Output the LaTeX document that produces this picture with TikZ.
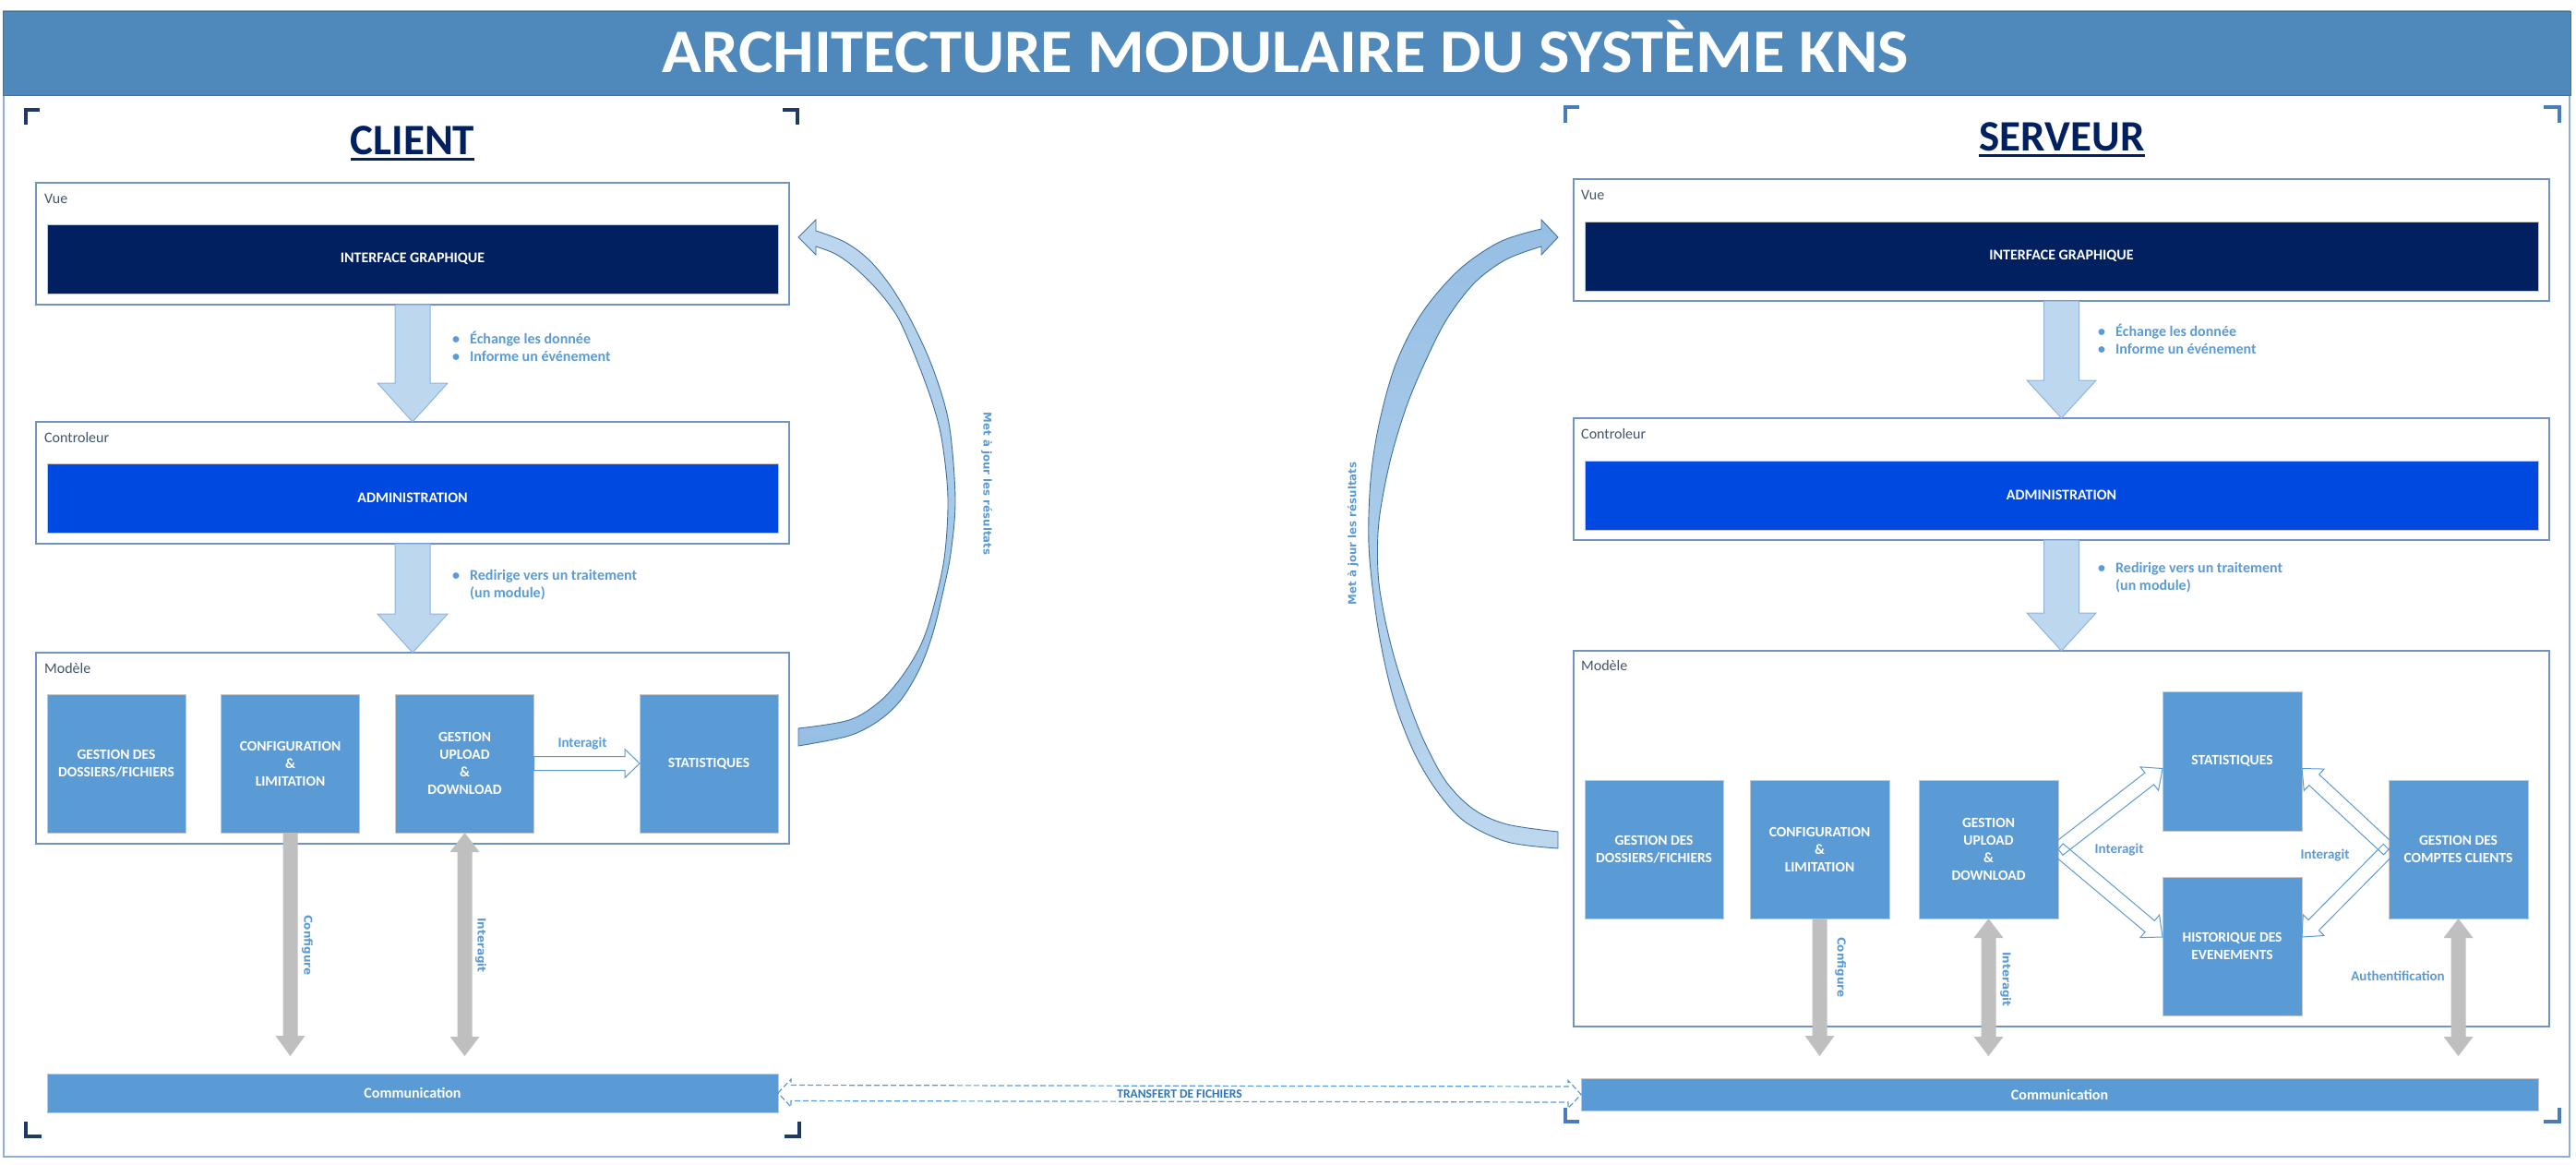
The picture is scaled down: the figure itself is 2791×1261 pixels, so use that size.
\documentclass[tikz,border=0pt]{standalone}
\usepackage{fontspec}
\setmainfont{Carlito}
\newfontfamily\verd{DejaVu Sans}
\usetikzlibrary{calc}
\definecolor{banner}{HTML}{4F88BB}
\definecolor{bannerline}{HTML}{41719C}
\definecolor{navy}{HTML}{002060}
\definecolor{admblue}{HTML}{0049E0}
\definecolor{modblue}{HTML}{5B9BD5}
\definecolor{lightarr}{HTML}{BDD7EE}
\definecolor{arrline}{HTML}{8FB4DE}
\definecolor{grayarr}{HTML}{BFBFBF}
\definecolor{boxline}{HTML}{6E93C4}
\definecolor{lbl}{HTML}{44546A}
\definecolor{txtblue}{HTML}{5B9BD5}
\definecolor{darkblue}{HTML}{2E75B6}
\definecolor{brkclient}{HTML}{1F3864}
\definecolor{brkserver}{HTML}{4A7DB8}
\definecolor{outerline}{HTML}{8EAFD6}
\definecolor{curvline}{HTML}{41719C}

\newcommand\blockarrow[6]{%
 \coordinate (hbtmp) at ($(#2)!#5!(#1)$);
 \path[#6] ($(#1)!#3!90:(#2)$) -- ($(hbtmp)!#3!90:(#2)$) -- ($(hbtmp)!#4!90:(#2)$) -- (#2) -- ($(hbtmp)!#4!-90:(#2)$) -- ($(hbtmp)!#3!-90:(#2)$) -- ($(#1)!#3!-90:(#2)$) -- cycle;}
\newcommand\dblarrow[6]{%
 \coordinate (hatmp) at ($(#1)!#5!(#2)$);
 \coordinate (hbtmp) at ($(#2)!#5!(#1)$);
 \path[#6] (#1) -- ($(hatmp)!#4!90:(#2)$) -- ($(hatmp)!#3!90:(#2)$) -- ($(hbtmp)!#3!90:(#2)$) -- ($(hbtmp)!#4!90:(#2)$) -- (#2) -- ($(hbtmp)!#4!-90:(#2)$) -- ($(hbtmp)!#3!-90:(#2)$) -- ($(hatmp)!#3!-90:(#2)$) -- ($(hatmp)!#4!-90:(#2)$) -- cycle;}

\begin{document}
\begin{tikzpicture}[x=1pt,y=-1pt,
 frm/.style={draw=boxline, line width=1.5pt, fill=white, inner sep=0pt, outer sep=0pt},
 bar/.style={draw=black!22, line width=1pt, inner sep=0pt, outer sep=0pt, text=white, font=\fontsize{15.5}{19}\selectfont\bfseries, align=center},
 module/.style={bar, fill=modblue, minimum width=150pt, minimum height=150pt},
 wide/.style={bar, font=\fontsize{16}{19}\selectfont\bfseries},
 seclbl/.style={anchor=west, text=lbl, font=\fontsize{16}{19}\selectfont, inner sep=0pt},
 bultxt/.style={anchor=west, text=txtblue, font=\fontsize{16}{19}\selectfont\bfseries, inner sep=0pt},
 hlbl/.style={text=txtblue, font=\fontsize{15}{18}\selectfont\bfseries, inner sep=0pt},
 rotlbl/.style={text=txtblue, font=\verd\fontsize{12}{14}\selectfont\bfseries, inner sep=0pt},
 bluearr/.style={fill=lightarr, draw=arrline, line width=1pt},
 grayfill/.style={fill=grayarr},
 hollow/.style={draw=txtblue, line width=1pt},
 dashedarr/.style={draw=txtblue, line width=1.2pt, dashed, dash pattern=on 6pt off 3pt},
 curvarr/.style={draw=curvline, line width=0.9pt},
 brk/.style={line width=4pt}
]
\useasboundingbox (0,0) rectangle (2791,1261);
% outer frame and banner
\draw[outerline, line width=2pt] (4,12) rectangle (2784,1253);
\fill[banner] (3,12) rectangle (2785,103);
\draw[bannerline, line width=1pt] (3,12) rectangle (2785,103);
\node[anchor=base, text=white, font=\fontsize{67}{72}\selectfont\bfseries, inner sep=0pt] (title) at (1393,78) {\scalebox{1.055}[1]{ARCHITECTURE MODULAIRE DU SYSTÈME KNS}};

% corner brackets
\draw[brk, brkclient] (28,135) -- (28,119) -- (43,119);
\draw[brk, brkclient] (848,119) -- (864,119) -- (864,135);
\draw[brk, brkclient] (28,1215) -- (28,1231) -- (45,1231);
\draw[brk, brkclient] (850,1231) -- (866,1231) -- (866,1215);
\draw[brk, brkserver] (1696,133) -- (1696,116) -- (1711,116);
\draw[brk, brkserver] (2756,116) -- (2773,116) -- (2773,133);
\draw[brk, brkserver] (1696,1200) -- (1696,1215) -- (1711,1215);
\draw[brk, brkserver] (2756,1215) -- (2773,1215) -- (2773,1200);

% headings
\node[anchor=base, text=navy, font=\fontsize{47}{50}\selectfont\bfseries, inner sep=0pt] (client) at (447,167) {CLIENT};
\draw[navy, line width=3pt] ($(client.base west)+(0,5)$) -- ($(client.base east)+(0,5)$);
\node[anchor=base, text=navy, font=\fontsize{47}{50}\selectfont\bfseries, inner sep=0pt] (serveur) at (2234,163) {SERVEUR};
\draw[navy, line width=3pt] ($(serveur.base west)+(0,5)$) -- ($(serveur.base east)+(0,5)$);

% ================= CLIENT =================
\node[frm, minimum width=816pt, minimum height=132pt] (cvue) at (447,264) {};
\node[seclbl] (cvuel) at ($(cvue.north west)+(9,17)$) {Vue};
\node[wide, fill=navy, minimum width=792pt, minimum height=75pt] (cig) at (447,280.5) {INTERFACE GRAPHIQUE};

\node[frm, minimum width=816pt, minimum height=132pt] (cctrl) at (447,523) {};
\node[seclbl] (cctrll) at ($(cctrl.north west)+(9,17)$) {Controleur};
\node[wide, fill=admblue, minimum width=792pt, minimum height=75pt] (cadm) at (447,539.5) {ADMINISTRATION};

\node[frm, minimum width=816pt, minimum height=207pt] (cmod) at (447,810.5) {};
\node[seclbl] (cmodl) at ($(cmod.north west)+(9,17)$) {Modèle};
\node[module] (cm1) at (126,827) {GESTION DES\\DOSSIERS/FICHIERS};
\node[module] (cm2) at (314.5,827) {CONFIGURATION\\\&\\LIMITATION};
\node[module] (cm3) at (503.5,827) {GESTION\\UPLOAD\\\&\\DOWNLOAD};
\node[module] (cm4) at (768,827) {STATISTIQUES};

\node[wide, fill=modblue, minimum width=792pt, minimum height=42pt] (ccom) at (447,1184) {Communication};

\blockarrow{cvue.south}{cctrl.north}{19pt}{38pt}{42pt}{bluearr}
\blockarrow{cctrl.south}{cmod.north}{19pt}{38pt}{42pt}{bluearr}
\node[bultxt] (cb1) at (490,378.5) {\begin{tabular}{@{}l@{\hspace{11pt}}l@{}}•&Échange les donnée\\ •&Informe un événement\end{tabular}};
\node[bultxt] (cb2) at (490,634.5) {\begin{tabular}{@{}l@{\hspace{11pt}}l@{}}•&Redirige vers un traitement\\ &(un module)\end{tabular}};

\blockarrow{cm3.east}{cm4.west}{7.5pt}{15.5pt}{16pt}{hollow}
\node[hlbl] (cint) at (631,805) {Interagit};

\coordinate (ccfgend) at ($(ccom.north -| cm2.south)+(0,-19)$);
\blockarrow{cm2.south}{ccfgend}{8pt}{16pt}{22pt}{grayfill}
\node[rotlbl, rotate=-90] (ccfgl) at (333,1024) {Configure};
\coordinate (cintend) at ($(ccom.north -| cm3.south)+(0,-19)$);
\dblarrow{cm3.south}{cintend}{8pt}{16pt}{21pt}{grayfill}
\node[rotlbl, rotate=-90] (cintl) at (521,1024) {Interagit};

% curved arrow client
\path[curvarr, top color=lightarr, bottom color=lightarr!60!modblue]
 plot[smooth, tension=0.55] coordinates {(865,808) (920,797) (953,780) (977,757) (997,723) (1011,685) (1022,640) (1030,600) (1035,545) (1031,480) (1024,440) (1008,392) (987,347) (965,310) (941,281) (915,262) (884,250)}
 -- (884,238) -- (865,257) -- (884,276) --
 plot[smooth, tension=0.55] coordinates {(884,267) (905,275) (925,289) (945,308) (962,328) (976,350) (996,397) (1012,442) (1021,480) (1027,540) (1023,605) (1010,663) (997,700) (977,733) (953,760) (920,780) (865,789)}
 -- cycle;
\node[rotlbl, rotate=-90, font=\verd\fontsize{11.8}{14}\selectfont\bfseries] (cmaj) at (1069,524) {Met à jour les résultats};

% ================= SERVEUR =================
\node[frm, minimum width=1057pt, minimum height=132pt] (svue) at (2233.5,260) {};
\node[seclbl] (svuel) at ($(svue.north west)+(8,17)$) {Vue};
\node[wide, fill=navy, minimum width=1033pt, minimum height=75pt] (sig) at (2233.5,277.5) {INTERFACE GRAPHIQUE};

\node[frm, minimum width=1057pt, minimum height=132pt] (sctrl) at (2233.5,519) {};
\node[seclbl] (sctrll) at ($(sctrl.north west)+(8,17)$) {Controleur};
\node[wide, fill=admblue, minimum width=1033pt, minimum height=75pt] (sadm) at (2233.5,536.5) {ADMINISTRATION};

\node[frm, minimum width=1057pt, minimum height=407pt] (smod) at (2233.5,908.5) {};
\node[seclbl] (smodl) at ($(smod.north west)+(8,16)$) {Modèle};
\node[module] (sm1) at (1792,920) {GESTION DES\\DOSSIERS/FICHIERS};
\node[module, minimum width=151pt] (sm2) at (1971.5,920) {CONFIGURATION\\\&\\LIMITATION};
\node[module, minimum width=151pt] (sm3) at (2154.5,920) {GESTION\\UPLOAD\\\&\\DOWNLOAD};
\node[module, minimum width=151pt, minimum height=151pt] (sstat) at (2418.5,824.5) {STATISTIQUES};
\node[module, minimum width=151pt] (shist) at (2418.5,1025) {HISTORIQUE DES\\EVENEMENTS};
\node[module, minimum width=151pt] (scpt) at (2663.5,920) {GESTION DES\\COMPTES CLIENTS};

\node[wide, fill=modblue, minimum width=1037pt, minimum height=35pt] (scom) at (2231.5,1185.5) {Communication};

\blockarrow{svue.south}{sctrl.north}{19pt}{37.5pt}{41pt}{bluearr}
\blockarrow{sctrl.south}{smod.north}{19pt}{37.5pt}{41pt}{bluearr}
\node[bultxt] (sb1) at (2273,370) {\begin{tabular}{@{}l@{\hspace{11pt}}l@{}}•&Échange les donnée\\ •&Informe un événement\end{tabular}};
\node[bultxt] (sb2) at (2273,626.5) {\begin{tabular}{@{}l@{\hspace{11pt}}l@{}}•&Redirige vers un traitement\\ &(un module)\end{tabular}};

\coordinate (stin) at ($(sstat.west)+(0,8)$);
\coordinate (shin) at ($(shist.west)+(0,-10)$);
\coordinate (stin2) at ($(sstat.east)+(0,8)$);
\coordinate (shin2) at ($(shist.east)+(0,-10)$);
\blockarrow{sm3.east}{stin}{8pt}{16pt}{18pt}{hollow}
\blockarrow{sm3.east}{shin}{8pt}{16pt}{18pt}{hollow}
\blockarrow{scpt.west}{stin2}{8pt}{16pt}{18pt}{hollow}
\blockarrow{scpt.west}{shin2}{8pt}{16pt}{18pt}{hollow}
\node[hlbl] (sint1) at (2296,920) {Interagit};
\node[hlbl] (sint2) at (2519,926) {Interagit};
\node[hlbl] (sauth) at (2598,1057) {Authentification};

\coordinate (scfgend) at ($(scom.north -| sm2.south)+(0,-24)$);
\blockarrow{sm2.south}{scfgend}{8pt}{16pt}{22pt}{grayfill}
\node[rotlbl, rotate=-90] (scfgl) at (1994,1048) {Configure};
\coordinate (sintend) at ($(scom.north -| sm3.south)+(0,-24)$);
\dblarrow{sm3.south}{sintend}{8pt}{16pt}{21pt}{grayfill}
\node[rotlbl, rotate=-90] (sintl) at (2173,1061) {Interagit};
\coordinate (sauthend) at ($(scom.north -| scpt.south)+(0,-24)$);
\dblarrow{scpt.south}{sauthend}{8pt}{16pt}{21pt}{grayfill}

% curved arrow server
\path[curvarr, top color=lightarr!60!modblue, bottom color=lightarr]
 plot[smooth, tension=0.55] coordinates {(1688,919) (1633,912) (1587,890) (1557,857) (1533,817) (1513,767) (1500,717) (1490,660) (1483,590) (1485,520) (1494,460) (1512,395) (1540,340) (1580,293) (1625,262) (1670,248)}
 -- (1670,238) -- (1688,257) -- (1670,276) --
 plot[smooth, tension=0.55] coordinates {(1670,267) (1632,281) (1598,306) (1568,345) (1545,390) (1524,440) (1506,500) (1494,565) (1493,620) (1499,663) (1510,710) (1525,757) (1543,803) (1567,847) (1597,877) (1633,893) (1688,901)}
 -- cycle;
\node[rotlbl, rotate=90, font=\verd\fontsize{11.8}{14}\selectfont\bfseries] (smaj) at (1466,578) {Met à jour les résultats};

% transfer
\dblarrow{ccom.east}{scom.west}{8.5pt}{15pt}{14pt}{dashedarr}
\node[text=darkblue, font=\fontsize{13.5}{15}\selectfont\bfseries, inner sep=0pt] (tlbl) at ($(ccom.east)!0.5!(scom.west)$) {TRANSFERT DE FICHIERS};
\end{tikzpicture}
\end{document}
